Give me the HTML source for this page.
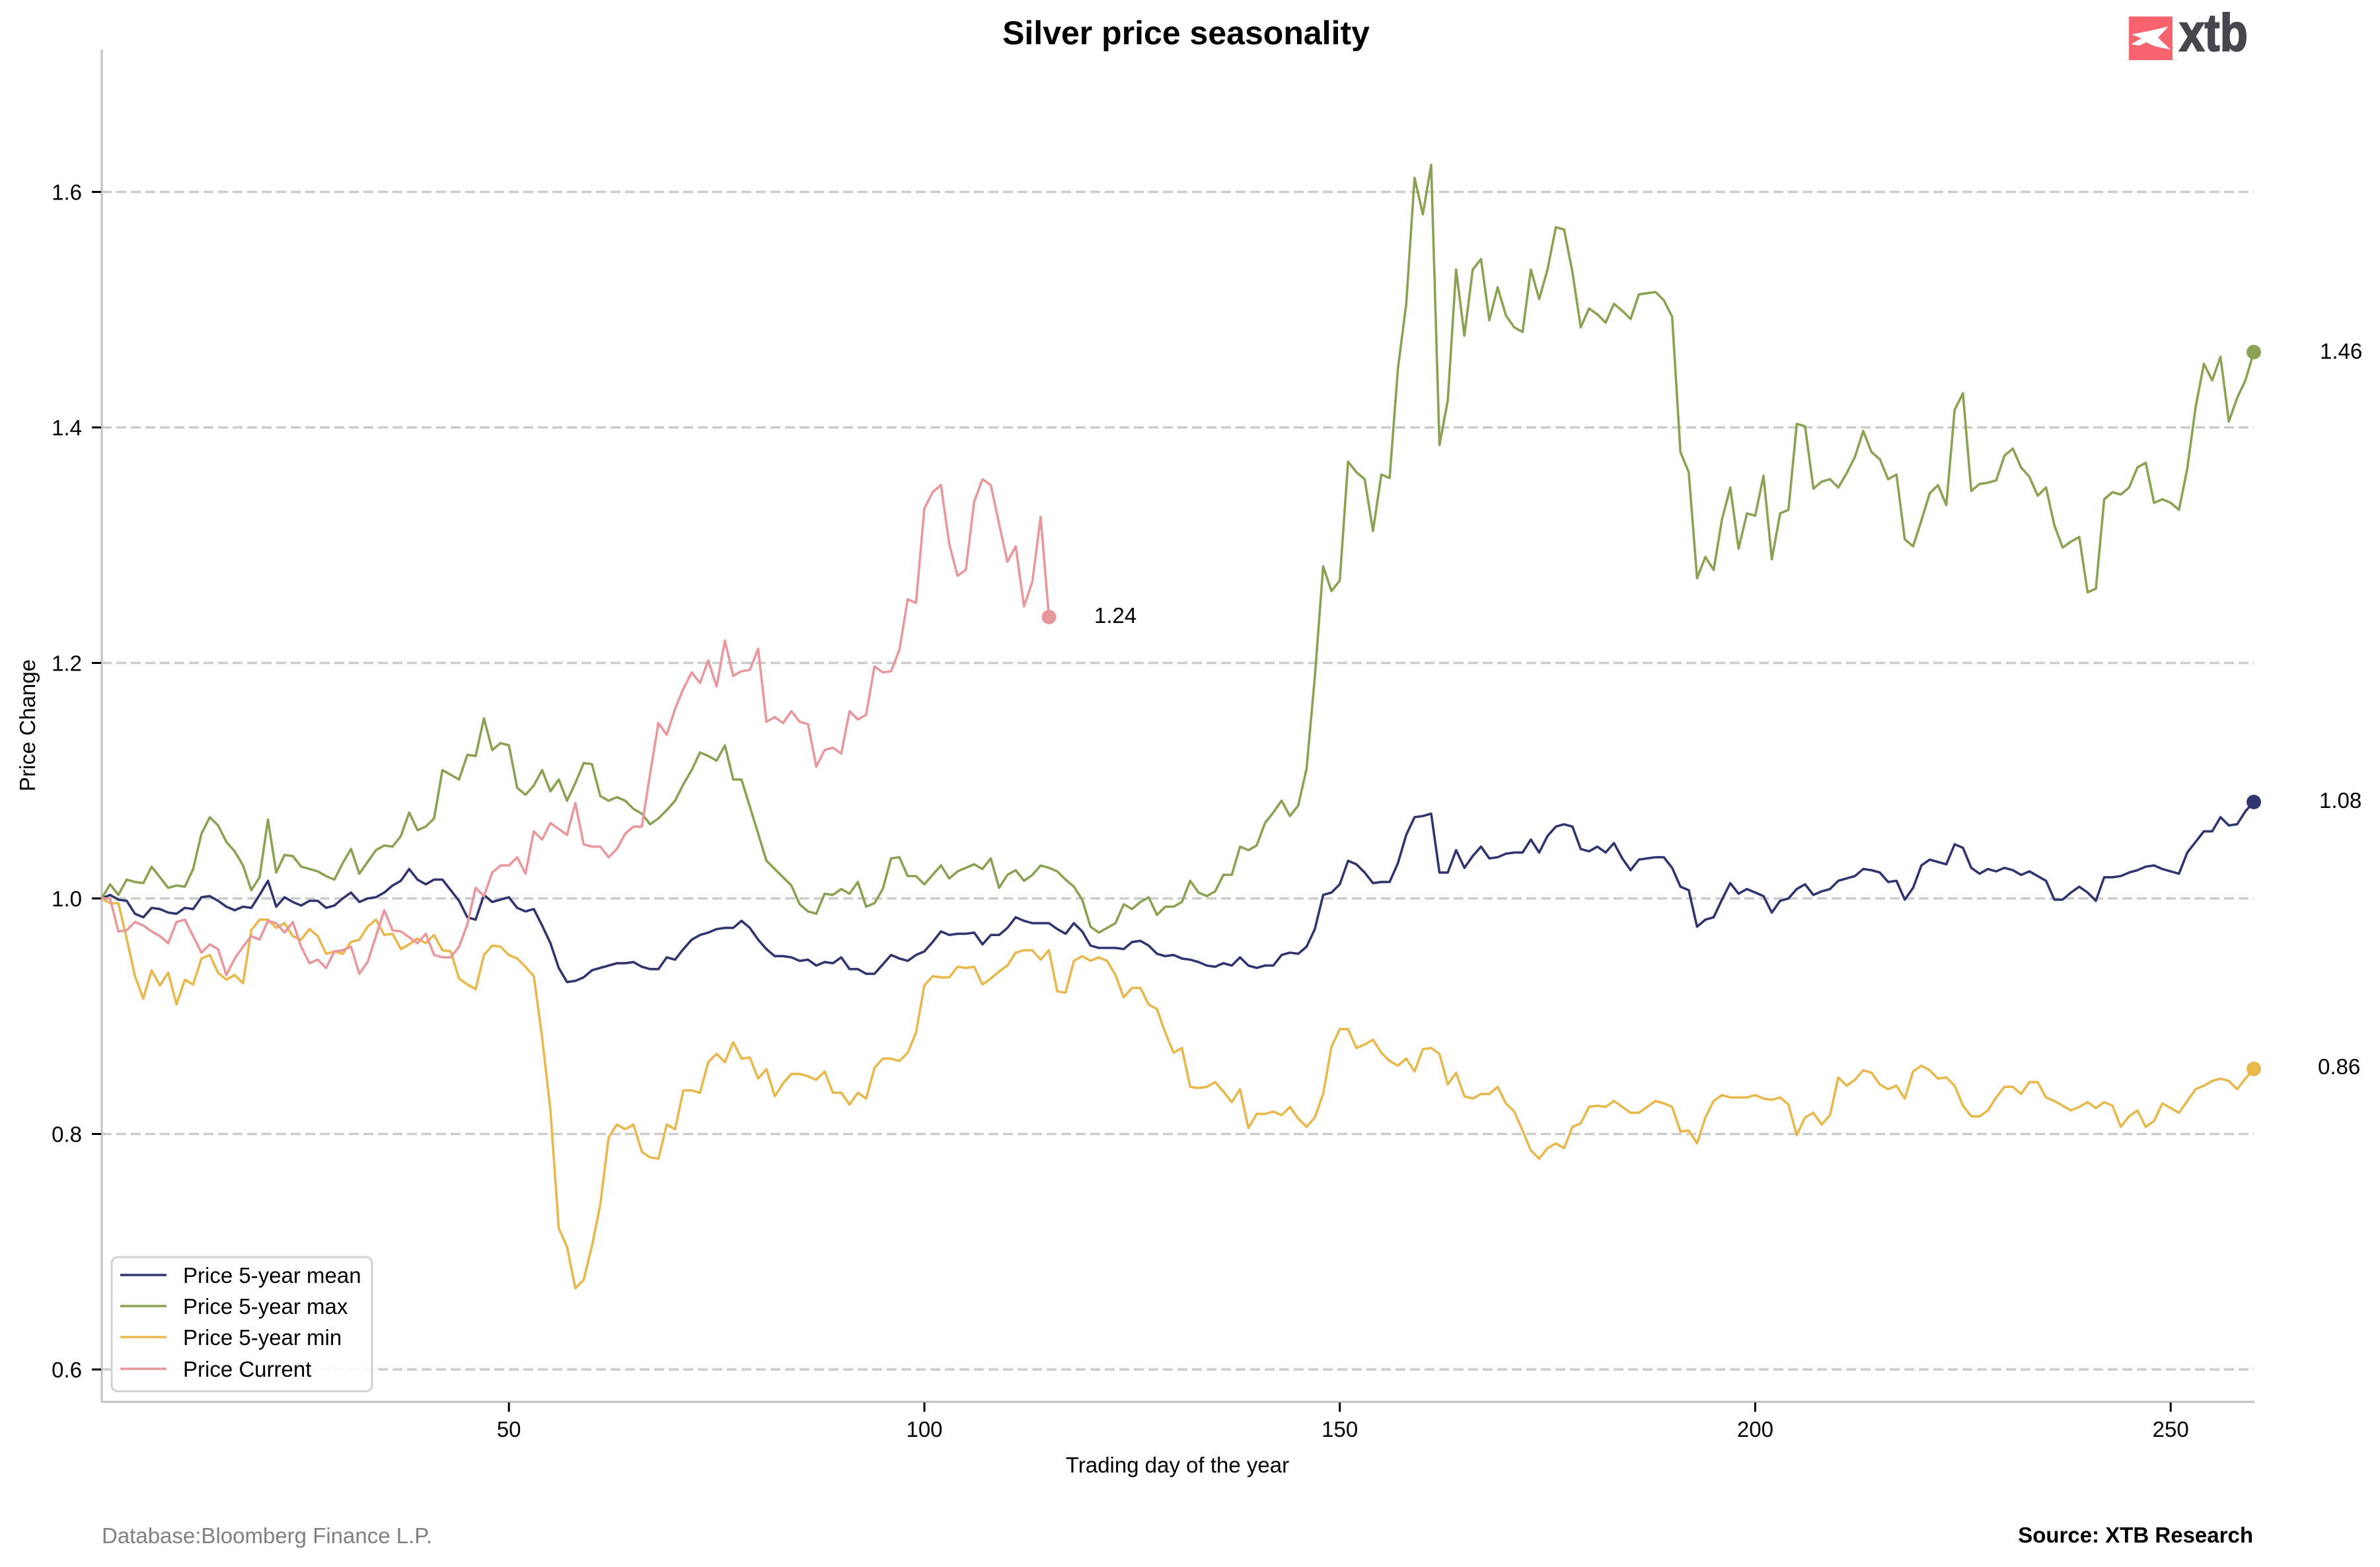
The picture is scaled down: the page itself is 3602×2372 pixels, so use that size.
<!DOCTYPE html>
<html>
<head>
<meta charset="utf-8">
<style>
html,body{margin:0;padding:0;background:#fff;}
svg{display:block;font-family:"Liberation Sans",Arial,sans-serif;}
</style>
</head>
<body>
<svg width="3602" height="2372" viewBox="0 0 3602 2372" xmlns="http://www.w3.org/2000/svg">
<rect x="0" y="0" width="3602" height="2372" fill="#ffffff"/>

<!-- title -->
<text x="1795" y="67" font-size="50" font-weight="bold" text-anchor="middle" fill="#000">Silver price seasonality</text>

<!-- logo -->
<rect x="3222" y="25" width="66" height="66" fill="#f7646e"/>
<path d="M3226,52 L3252,47 L3282,40 L3266,57 L3285,75 L3261,70 L3248,64 L3238,69 L3225,67 L3241,58 Z" fill="#ffffff"/>
<text x="3298" y="77" font-size="80" font-weight="bold" fill="#46464e" stroke="#46464e" stroke-width="2" textLength="104" lengthAdjust="spacingAndGlyphs">xtb</text>

<!-- gridlines -->
<g stroke="#cccccc" stroke-width="3.5" stroke-dasharray="15,7" fill="none">
<line x1="154" y1="290.5" x2="3411" y2="290.5"/>
<line x1="154" y1="647" x2="3411" y2="647"/>
<line x1="154" y1="1003.5" x2="3411" y2="1003.5"/>
<line x1="154" y1="1360" x2="3411" y2="1360"/>
<line x1="154" y1="1716.5" x2="3411" y2="1716.5"/>
<line x1="154" y1="2073" x2="3411" y2="2073"/>
</g>

<!-- spines -->
<line x1="154" y1="75" x2="154" y2="2123" stroke="#bfbfbf" stroke-width="3"/>
<line x1="153" y1="2122" x2="3412" y2="2122" stroke="#bfbfbf" stroke-width="3"/>

<!-- y ticks -->
<g stroke="#000" stroke-width="3">
<line x1="139" y1="290.5" x2="153" y2="290.5"/>
<line x1="139" y1="647" x2="153" y2="647"/>
<line x1="139" y1="1003.5" x2="153" y2="1003.5"/>
<line x1="139" y1="1360" x2="153" y2="1360"/>
<line x1="139" y1="1716.5" x2="153" y2="1716.5"/>
<line x1="139" y1="2073" x2="153" y2="2073"/>
</g>
<g font-size="33" text-anchor="end" fill="#000">
<text x="124" y="302.5">1.6</text>
<text x="124" y="659">1.4</text>
<text x="124" y="1015.5">1.2</text>
<text x="124" y="1372">1.0</text>
<text x="124" y="1728.5">0.8</text>
<text x="124" y="2085">0.6</text>
</g>

<!-- x ticks -->
<g stroke="#000" stroke-width="3">
<line x1="770.2" y1="2123" x2="770.2" y2="2137"/>
<line x1="1399" y1="2123" x2="1399" y2="2137"/>
<line x1="2027.7" y1="2123" x2="2027.7" y2="2137"/>
<line x1="2656.4" y1="2123" x2="2656.4" y2="2137"/>
<line x1="3285.2" y1="2123" x2="3285.2" y2="2137"/>
</g>
<g font-size="33" text-anchor="middle" fill="#000">
<text x="770.2" y="2175">50</text>
<text x="1399" y="2175">100</text>
<text x="2027.7" y="2175">150</text>
<text x="2656.4" y="2175">200</text>
<text x="3285.2" y="2175">250</text>
</g>

<!-- axis labels -->
<text x="1782" y="2229" font-size="33" text-anchor="middle" fill="#000">Trading day of the year</text>
<text x="0" y="0" font-size="33" text-anchor="middle" fill="#000" transform="translate(53,1098) rotate(-90)">Price Change</text>

<!-- series -->
<g fill="none" stroke-width="3.6" stroke-linejoin="round" stroke-linecap="butt" transform="matrix(12.575 0 0 -1782.5 141.425 3142.5)">
<polyline vector-effect="non-scaling-stroke" stroke="#30356f" points="1,1.000 2,1.003 3,0.999 4,0.998 5,0.987 6,0.984 7,0.992 8,0.991 9,0.988 10,0.987 11,0.992 12,0.991 13,1.001 14,1.002 15,0.998 16,0.993 17,0.990 18,0.993 19,0.992 20,1.003 21,1.015 22,0.993 23,1.001 24,0.997 25,0.994 26,0.998 27,0.998 28,0.992 29,0.994 30,1.000 31,1.005 32,0.997 33,1.000 34,1.001 35,1.005 36,1.011 37,1.015 38,1.025 39,1.016 40,1.012 41,1.016 42,1.016 43,1.007 44,0.998 45,0.984 46,0.982 47,1.003 48,0.997 49,0.999 50,1.001 51,0.992 52,0.989 53,0.991 54,0.977 55,0.962 56,0.941 57,0.929 58,0.930 59,0.933 60,0.939 61,0.941 62,0.943 63,0.945 64,0.945 65,0.946 66,0.942 67,0.940 68,0.940 69,0.950 70,0.948 71,0.957 72,0.965 73,0.969 74,0.971 75,0.974 76,0.975 77,0.975 78,0.981 79,0.975 80,0.965 81,0.957 82,0.951 83,0.951 84,0.950 85,0.947 86,0.948 87,0.943 88,0.946 89,0.945 90,0.950 91,0.940 92,0.940 93,0.936 94,0.936 95,0.944 96,0.952 97,0.949 98,0.947 99,0.952 100,0.955 101,0.963 102,0.972 103,0.969 104,0.970 105,0.970 106,0.971 107,0.961 108,0.969 109,0.969 110,0.975 111,0.984 112,0.981 113,0.979 114,0.979 115,0.979 116,0.974 117,0.970 118,0.979 119,0.972 120,0.960 121,0.958 122,0.958 123,0.958 124,0.957 125,0.963 126,0.964 127,0.960 128,0.953 129,0.951 130,0.952 131,0.949 132,0.948 133,0.946 134,0.943 135,0.942 136,0.945 137,0.943 138,0.950 139,0.943 140,0.941 141,0.943 142,0.943 143,0.952 144,0.954 145,0.953 146,0.959 147,0.974 148,1.003 149,1.005 150,1.012 151,1.032 152,1.029 153,1.022 154,1.013 155,1.014 156,1.014 157,1.030 158,1.054 159,1.069 160,1.070 161,1.072 162,1.022 163,1.022 164,1.041 165,1.026 166,1.036 167,1.044 168,1.034 169,1.035 170,1.038 171,1.039 172,1.039 173,1.050 174,1.039 175,1.053 176,1.061 177,1.063 178,1.061 179,1.042 180,1.040 181,1.044 182,1.039 183,1.047 184,1.034 185,1.024 186,1.033 187,1.034 188,1.035 189,1.035 190,1.026 191,1.010 192,1.007 193,0.976 194,0.982 195,0.984 196,0.999 197,1.013 198,1.004 199,1.008 200,1.005 201,1.002 202,0.988 203,0.998 204,1.000 205,1.008 206,1.012 207,1.003 208,1.006 209,1.008 210,1.015 211,1.017 212,1.019 213,1.025 214,1.024 215,1.022 216,1.014 217,1.015 218,0.999 219,1.009 220,1.028 221,1.033 222,1.031 223,1.029 224,1.046 225,1.043 226,1.026 227,1.021 228,1.025 229,1.023 230,1.026 231,1.024 232,1.020 233,1.023 234,1.019 235,1.015 236,0.999 237,0.999 238,1.005 239,1.010 240,1.005 241,0.998 242,1.018 243,1.018 244,1.019 245,1.022 246,1.024 247,1.027 248,1.028 249,1.025 250,1.023 251,1.021 252,1.039 253,1.048 254,1.057 255,1.057 256,1.069 257,1.062 258,1.063 259,1.074 260,1.082"/>
<polyline vector-effect="non-scaling-stroke" stroke="#8ba253" points="1,1.000 2,1.012 3,1.003 4,1.016 5,1.014 6,1.013 7,1.027 8,1.018 9,1.009 10,1.011 11,1.010 12,1.025 13,1.055 14,1.069 15,1.062 16,1.048 17,1.040 18,1.028 19,1.007 20,1.018 21,1.067 22,1.022 23,1.037 24,1.036 25,1.027 26,1.025 27,1.023 28,1.019 29,1.016 30,1.030 31,1.042 32,1.021 33,1.031 34,1.041 35,1.045 36,1.044 37,1.053 38,1.073 39,1.058 40,1.061 41,1.068 42,1.109 43,1.105 44,1.101 45,1.122 46,1.121 47,1.153 48,1.126 49,1.132 50,1.130 51,1.094 52,1.088 53,1.096 54,1.109 55,1.091 56,1.101 57,1.083 58,1.098 59,1.115 60,1.114 61,1.087 62,1.083 63,1.086 64,1.083 65,1.076 66,1.072 67,1.063 68,1.068 69,1.075 70,1.083 71,1.097 72,1.109 73,1.124 74,1.121 75,1.117 76,1.130 77,1.101 78,1.101 79,1.078 80,1.055 81,1.032 82,1.025 83,1.018 84,1.011 85,0.995 86,0.989 87,0.987 88,1.004 89,1.003 90,1.008 91,1.004 92,1.014 93,0.993 94,0.996 95,1.008 96,1.034 97,1.035 98,1.019 99,1.019 100,1.012 101,1.020 102,1.028 103,1.017 104,1.023 105,1.026 106,1.029 107,1.025 108,1.034 109,1.009 110,1.020 111,1.024 112,1.015 113,1.020 114,1.028 115,1.026 116,1.023 117,1.016 118,1.010 119,0.999 120,0.976 121,0.971 122,0.975 123,0.979 124,0.995 125,0.991 126,0.997 127,1.001 128,0.986 129,0.993 130,0.993 131,0.997 132,1.015 133,1.005 134,1.002 135,1.006 136,1.020 137,1.020 138,1.044 139,1.041 140,1.045 141,1.064 142,1.073 143,1.083 144,1.070 145,1.079 146,1.110 147,1.188 148,1.282 149,1.261 150,1.270 151,1.371 152,1.362 153,1.356 154,1.312 155,1.360 156,1.357 157,1.450 158,1.505 159,1.612 160,1.581 161,1.623 162,1.385 163,1.423 164,1.534 165,1.478 166,1.534 167,1.543 168,1.491 169,1.519 170,1.495 171,1.485 172,1.481 173,1.534 174,1.509 175,1.534 176,1.570 177,1.568 178,1.532 179,1.485 180,1.501 181,1.496 182,1.489 183,1.505 184,1.499 185,1.492 186,1.513 187,1.514 188,1.515 189,1.508 190,1.494 191,1.379 192,1.362 193,1.272 194,1.290 195,1.279 196,1.322 197,1.349 198,1.297 199,1.327 200,1.325 201,1.359 202,1.288 203,1.327 204,1.330 205,1.403 206,1.401 207,1.348 208,1.354 209,1.356 210,1.349 211,1.361 212,1.375 213,1.397 214,1.379 215,1.373 216,1.356 217,1.360 218,1.305 219,1.299 220,1.321 221,1.344 222,1.351 223,1.334 224,1.415 225,1.429 226,1.346 227,1.352 228,1.353 229,1.355 230,1.376 231,1.382 232,1.366 233,1.358 234,1.342 235,1.349 236,1.317 237,1.298 238,1.303 239,1.307 240,1.260 241,1.263 242,1.339 243,1.345 244,1.343 245,1.349 246,1.366 247,1.370 248,1.336 249,1.339 250,1.336 251,1.330 252,1.365 253,1.417 254,1.454 255,1.440 256,1.460 257,1.405 258,1.425 259,1.440 260,1.464"/>
<polyline vector-effect="non-scaling-stroke" stroke="#e9b84c" points="1,1.000 2,0.996 3,0.996 4,0.966 5,0.934 6,0.915 7,0.939 8,0.926 9,0.937 10,0.910 11,0.931 12,0.927 13,0.949 14,0.952 15,0.937 16,0.931 17,0.935 18,0.928 19,0.973 20,0.982 21,0.982 22,0.975 23,0.979 24,0.968 25,0.965 26,0.974 27,0.968 28,0.953 29,0.955 30,0.953 31,0.963 32,0.965 33,0.976 34,0.982 35,0.969 36,0.970 37,0.957 38,0.961 39,0.966 40,0.962 41,0.969 42,0.956 43,0.955 44,0.932 45,0.927 46,0.923 47,0.952 48,0.960 49,0.959 50,0.952 51,0.949 52,0.942 53,0.934 54,0.882 55,0.820 56,0.720 57,0.704 58,0.669 59,0.676 60,0.705 61,0.740 62,0.797 63,0.808 64,0.804 65,0.808 66,0.785 67,0.780 68,0.779 69,0.808 70,0.804 71,0.837 72,0.837 73,0.835 74,0.861 75,0.868 76,0.861 77,0.878 78,0.864 79,0.865 80,0.847 81,0.855 82,0.832 83,0.843 84,0.851 85,0.851 86,0.849 87,0.846 88,0.853 89,0.835 90,0.835 91,0.825 92,0.835 93,0.830 94,0.856 95,0.864 96,0.864 97,0.862 98,0.869 99,0.886 100,0.926 101,0.934 102,0.933 103,0.933 104,0.942 105,0.941 106,0.942 107,0.927 108,0.932 109,0.938 110,0.943 111,0.954 112,0.956 113,0.956 114,0.948 115,0.956 116,0.921 117,0.920 118,0.947 119,0.951 120,0.947 121,0.950 122,0.947 123,0.935 124,0.916 125,0.924 126,0.924 127,0.910 128,0.906 129,0.886 130,0.869 131,0.873 132,0.840 133,0.839 134,0.840 135,0.844 136,0.836 137,0.827 138,0.838 139,0.805 140,0.817 141,0.817 142,0.819 143,0.816 144,0.823 145,0.813 146,0.806 147,0.814 148,0.834 149,0.874 150,0.889 151,0.889 152,0.873 153,0.876 154,0.880 155,0.869 156,0.862 157,0.858 158,0.864 159,0.853 160,0.872 161,0.873 162,0.868 163,0.842 164,0.852 165,0.832 166,0.830 167,0.834 168,0.834 169,0.840 170,0.826 171,0.819 172,0.803 173,0.786 174,0.779 175,0.788 176,0.792 177,0.788 178,0.806 179,0.809 180,0.823 181,0.824 182,0.823 183,0.828 184,0.823 185,0.818 186,0.818 187,0.823 188,0.828 189,0.826 190,0.823 191,0.802 192,0.803 193,0.792 194,0.814 195,0.828 196,0.833 197,0.831 198,0.831 199,0.831 200,0.833 201,0.830 202,0.829 203,0.831 204,0.825 205,0.799 206,0.814 207,0.818 208,0.808 209,0.816 210,0.848 211,0.841 212,0.846 213,0.854 214,0.852 215,0.842 216,0.838 217,0.841 218,0.830 219,0.853 220,0.858 221,0.854 222,0.847 223,0.848 224,0.841 225,0.824 226,0.815 227,0.815 228,0.820 229,0.831 230,0.840 231,0.840 232,0.834 233,0.844 234,0.844 235,0.831 236,0.828 237,0.824 238,0.820 239,0.823 240,0.827 241,0.822 242,0.827 243,0.824 244,0.806 245,0.815 246,0.820 247,0.806 248,0.811 249,0.826 250,0.822 251,0.818 252,0.828 253,0.838 254,0.841 255,0.845 256,0.847 257,0.845 258,0.838 259,0.847 260,0.855"/>
<polyline vector-effect="non-scaling-stroke" stroke="#e8979d" points="1,1.000 2,1.000 3,0.972 4,0.973 5,0.980 6,0.977 7,0.972 8,0.968 9,0.962 10,0.980 11,0.982 12,0.968 13,0.954 14,0.961 15,0.957 16,0.935 17,0.949 18,0.959 19,0.968 20,0.965 21,0.981 22,0.979 23,0.971 24,0.980 25,0.959 26,0.945 27,0.948 28,0.941 29,0.955 30,0.956 31,0.959 32,0.936 33,0.946 34,0.968 35,0.990 36,0.973 37,0.972 38,0.967 39,0.962 40,0.970 41,0.952 42,0.950 43,0.950 44,0.959 45,0.978 46,1.009 47,1.002 48,1.022 49,1.028 50,1.028 51,1.035 52,1.021 53,1.057 54,1.050 55,1.064 56,1.059 57,1.054 58,1.081 59,1.046 60,1.044 61,1.044 62,1.035 63,1.042 64,1.055 65,1.061 66,1.061 67,1.106 68,1.149 69,1.139 70,1.161 71,1.178 72,1.192 73,1.183 74,1.202 75,1.180 76,1.219 77,1.189 78,1.193 79,1.194 80,1.212 81,1.150 82,1.154 83,1.149 84,1.159 85,1.150 86,1.148 87,1.112 88,1.126 89,1.128 90,1.123 91,1.159 92,1.152 93,1.156 94,1.197 95,1.192 96,1.193 97,1.211 98,1.254 99,1.251 100,1.331 101,1.345 102,1.351 103,1.301 104,1.274 105,1.279 106,1.337 107,1.356 108,1.351 109,1.318 110,1.286 111,1.299 112,1.248 113,1.269 114,1.324 115,1.239"/>
</g>

<!-- end dots -->
<circle cx="3411" cy="1214" r="11" fill="#30356f"/>
<circle cx="3411" cy="533" r="11" fill="#8ba253"/>
<circle cx="3411" cy="1618" r="11" fill="#e9b84c"/>
<circle cx="1587.6" cy="934" r="11" fill="#e8979d"/>

<!-- end value labels -->
<g font-size="33" fill="#000">
<text x="3511" y="543">1.46</text>
<text x="3510" y="1223">1.08</text>
<text x="3508" y="1626">0.86</text>
<text x="1656" y="943">1.24</text>
</g>

<!-- legend -->
<rect x="169" y="1903" width="394" height="203" rx="9" ry="9" fill="#ffffff" fill-opacity="0.85" stroke="#d0d0d0" stroke-width="3"/>
<g stroke-width="3.6">
<line x1="182" y1="1930" x2="252" y2="1930" stroke="#30356f"/>
<line x1="182" y1="1977" x2="252" y2="1977" stroke="#8ba253"/>
<line x1="182" y1="2024" x2="252" y2="2024" stroke="#e9b84c"/>
<line x1="182" y1="2072" x2="252" y2="2072" stroke="#e8979d"/>
</g>
<g font-size="33" fill="#000">
<text x="277" y="1942">Price 5-year mean</text>
<text x="277" y="1989">Price 5-year max</text>
<text x="277" y="2036">Price 5-year min</text>
<text x="277" y="2084">Price Current</text>
</g>

<!-- footer -->
<text x="154" y="2336" font-size="33" fill="#808080">Database:Bloomberg Finance L.P.</text>
<text x="3410" y="2335" font-size="33" font-weight="bold" text-anchor="end" fill="#000">Source: XTB Research</text>
</svg>
</body>
</html>
